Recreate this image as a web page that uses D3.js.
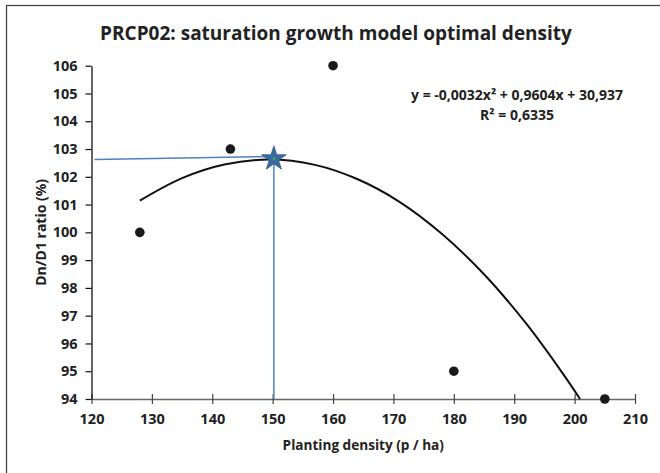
<!DOCTYPE html>
<html>
<head>
<meta charset="utf-8">
<script src="https://cdnjs.cloudflare.com/ajax/libs/d3/7.8.5/d3.min.js"></script>
<style>
  body { margin: 0; background: #fff; }
  svg { display: block; font-family: "Open Sans", Lato, sans-serif; }
</style>
</head>
<body>
<div id="chart"></div>
<script>
// observed points
var densities = [128, 143, 160, 180, 205];
var ratios = [100, 103, 106, 95, 94];

// trendline (x, y)
var trendX = [128, 135, 142, 149.4, 157, 164, 171, 178, 185, 192, 198, 200.9];
var trendY = [101.14, 101.95, 102.44, 102.62, 102.43, 101.92, 101.1, 99.95, 98.49, 96.71, 94.93, 94.0];

// optimum marker and guide lines
var optX = 150.2, optY = 102.65;
var guideLeft = [120.5, 102.62];

var xTicks = [120, 130, 140, 150, 160, 170, 180, 190, 200, 210];
var yTicks = [94, 95, 96, 97, 98, 99, 100, 101, 102, 103, 104, 105, 106];

var titleText = "PRCP02: saturation growth model optimal density";
var xLabel = "Planting density (p / ha)";
var yLabel = "Dn/D1 ratio (%)";
var eqLines = ["y = -0,0032x\u00b2 + 0,9604x + 30,937", "R\u00b2 = 0,6335"];

var width = 660, height = 473;

var svg = d3.select("#chart").append("svg")
    .attr("width", width)
    .attr("height", height);

// outer frame (only top and left visible)
svg.append("rect")
    .attr("x", 6.5).attr("y", 5.5)
    .attr("width", 800).attr("height", 600)
    .attr("fill", "none")
    .attr("stroke", "#444")
    .attr("stroke-width", 1.3);

var x = d3.scaleLinear().domain([120, 210]).range([91.5, 635]);
var y = d3.scaleLinear().domain([94, 106]).range([399, 65.7]);

svg.append("text")
    .attr("x", 336)
    .attr("y", 40)
    .attr("text-anchor", "middle")
    .style("font-size", "19px")
    .style("font-weight", "bold")
    .style("fill", "#222")
    .text(titleText);

// x axis, ticks crossing the line
var xAxis = svg.append("g")
    .attr("transform", "translate(0," + y(94) + ")")
    .call(d3.axisBottom(x).tickValues(xTicks).tickSizeInner(5).tickSizeOuter(0).tickPadding(10));
xAxis.select(".domain").attr("stroke", "#666").attr("stroke-width", 1.5);
xAxis.selectAll(".tick line").attr("y1", -5).attr("stroke", "#444").attr("stroke-width", 1.2);

var yAxis = svg.append("g")
    .attr("transform", "translate(" + x(120) + ",0)")
    .call(d3.axisLeft(y).tickValues(yTicks).tickSizeInner(6).tickSizeOuter(0).tickPadding(8));
yAxis.select(".domain").attr("stroke", "#111").attr("stroke-width", 1.3);
yAxis.selectAll(".tick line").attr("stroke", "#111").attr("stroke-width", 1.2);

[xAxis, yAxis].forEach(function(a) {
  a.attr("font-family", null).attr("font-size", null);
  a.selectAll(".tick text")
      .style("font-family", "'Open Sans', sans-serif")
      .style("font-size", "14.5px")
      .style("font-weight", "bold")
      .style("fill", "#222");
});

svg.append("text")
    .attr("x", (x(120) + x(210)) / 2)
    .attr("y", 450)
    .attr("text-anchor", "middle")
    .style("font-size", "13.6px")
    .style("font-weight", "bold")
    .style("fill", "#222")
    .text(xLabel);

svg.append("text")
    .attr("transform", "translate(46," + ((y(94) + y(106)) / 2) + ") rotate(-90)")
    .attr("text-anchor", "middle")
    .style("font-size", "14px")
    .style("font-weight", "bold")
    .style("fill", "#222")
    .text(yLabel);

// trendline
var trend = trendX.map(function(d, i) { return [d, trendY[i]]; });
svg.append("path")
    .datum(trend)
    .attr("fill", "none")
    .attr("stroke", "#111")
    .attr("stroke-width", 2)
    .attr("d", d3.line()
        .curve(d3.curveCatmullRom)
        .x(function(d) { return x(d[0]); })
        .y(function(d) { return y(d[1]); }));

// blue guide lines to the optimum
svg.append("line")
    .attr("x1", x(guideLeft[0])).attr("y1", y(guideLeft[1]))
    .attr("x2", x(optX)).attr("y2", y(optY + 0.08))
    .attr("stroke", "#4f81bd").attr("stroke-width", 1.5);
svg.append("line")
    .attr("x1", x(optX)).attr("y1", y(94))
    .attr("x2", x(optX)).attr("y2", y(optY))
    .attr("stroke", "#4f81bd").attr("stroke-width", 1.5);

// points
svg.append("g")
  .selectAll("circle")
    .data(densities)
  .enter().append("circle")
    .attr("cx", function(d) { return x(d); })
    .attr("cy", function(d, i) { return y(ratios[i]); })
    .attr("r", 4.8)
    .attr("fill", "#1a1a1a");

// optimum star
svg.append("path")
    .attr("d", d3.symbol().type(d3.symbolStar).size(185)())
    .attr("transform", "translate(" + x(optX) + "," + y(optY) + ")")
    .attr("fill", "#3a6a9e")
    .attr("stroke", "#2f5a8a")
    .attr("stroke-width", 0.8);
svg.append("circle")
    .attr("cx", x(optX)).attr("cy", y(optY))
    .attr("r", 1.3)
    .attr("fill", "#3cb34a");

// equation label
svg.append("g")
  .selectAll("text")
    .data(eqLines)
  .enter().append("text")
    .attr("x", 517)
    .attr("y", function(d, i) { return 100 + i * 19.5; })
    .attr("text-anchor", "middle")
    .style("font-size", "14px")
    .style("font-weight", "bold")
    .style("fill", "#222")
    .text(function(d) { return d; });
</script>
</body>
</html>
